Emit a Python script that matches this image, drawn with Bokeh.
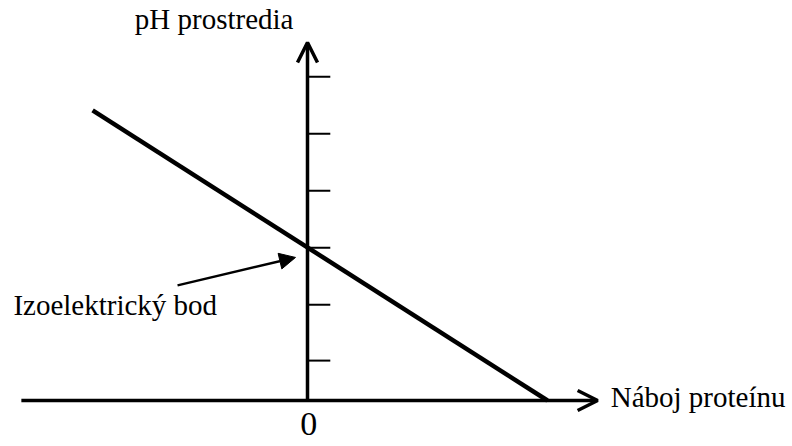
from bokeh.plotting import figure
from bokeh.models import Range1d, Arrow, OpenHead, NormalHead, ColumnDataSource
from bokeh.core.properties import value
from bokeh.embed import file_html
from bokeh.resources import INLINE

# --- data (schematic units) ---
line_charge = [-3.77, 4.21]
line_ph = [5.09, 0.0]
tick_ph = [0.70, 1.68, 2.68, 3.68, 4.68, 5.68]
tick_len = 0.40
iso_charge = 0.0
iso_ph = 2.68
x_axis_start, x_axis_end = -5.02, 5.09
y_axis_end = 6.28
pointer_tail = (-2.28, 2.02)   # tail of pointer arrow
pointer_tip = (-0.21, 2.51)    # tip, just left/below the isoelectric point

labels_text = ["pH prostredia", "Izoelektrický bod", "Náboj proteínu"]
labels_x = [-3.03, -5.16, 5.32]
labels_y = [6.70, 1.67, 0.07]
zero_label = ["0"]

U = 57.0  # px per unit
W, H = 792, 446
x0_px, y0_px = 307, 400  # origin in canvas px

p = figure(width=W, height=H, output_backend="svg", toolbar_location=None,
           x_range=Range1d(-x0_px / U, (W - x0_px) / U),
           y_range=Range1d(-(H - y0_px) / U, y0_px / U),
           min_border=0)
p.axis.visible = False
p.grid.visible = False
p.outline_line_color = None
p.background_fill_color = "white"
p.border_fill_color = "white"

# axes with open arrowheads
p.add_layout(Arrow(end=OpenHead(size=20, line_width=3.5, line_color="black"),
                   x_start=x_axis_start, y_start=0, x_end=x_axis_end, y_end=0,
                   line_width=3.5, line_color="black"))
p.add_layout(Arrow(end=OpenHead(size=20, line_width=3.5, line_color="black"),
                   x_start=0, y_start=0, x_end=0, y_end=y_axis_end,
                   line_width=3.5, line_color="black"))

# ticks
p.segment(x0=[0] * len(tick_ph), y0=tick_ph, x1=[tick_len] * len(tick_ph), y1=tick_ph,
          line_width=2, line_color="black")

# main line
p.line(line_charge, line_ph, line_width=4.5, line_color="black")

# pointer to isoelectric point
p.add_layout(Arrow(end=NormalHead(size=16, fill_color="black", line_color="black"),
                   x_start=pointer_tail[0], y_start=pointer_tail[1],
                   x_end=pointer_tip[0], y_end=pointer_tip[1],
                   line_width=2.5, line_color="black"))

FONT = value("'Liberation Serif'")
src = ColumnDataSource(dict(x=labels_x, y=labels_y, t=labels_text))
p.text(x="x", y="y", text="t", source=src, text_font=FONT,
       text_font_size="29px", text_align="left", text_baseline="alphabetic",
       text_color="black")

p.text(x=[0.02], y=[-0.42], text=zero_label, text_font=FONT,
       text_font_size="34px", text_align="center", text_baseline="alphabetic",
       text_color="black")

open("out.html", "w").write(file_html(p, INLINE))
